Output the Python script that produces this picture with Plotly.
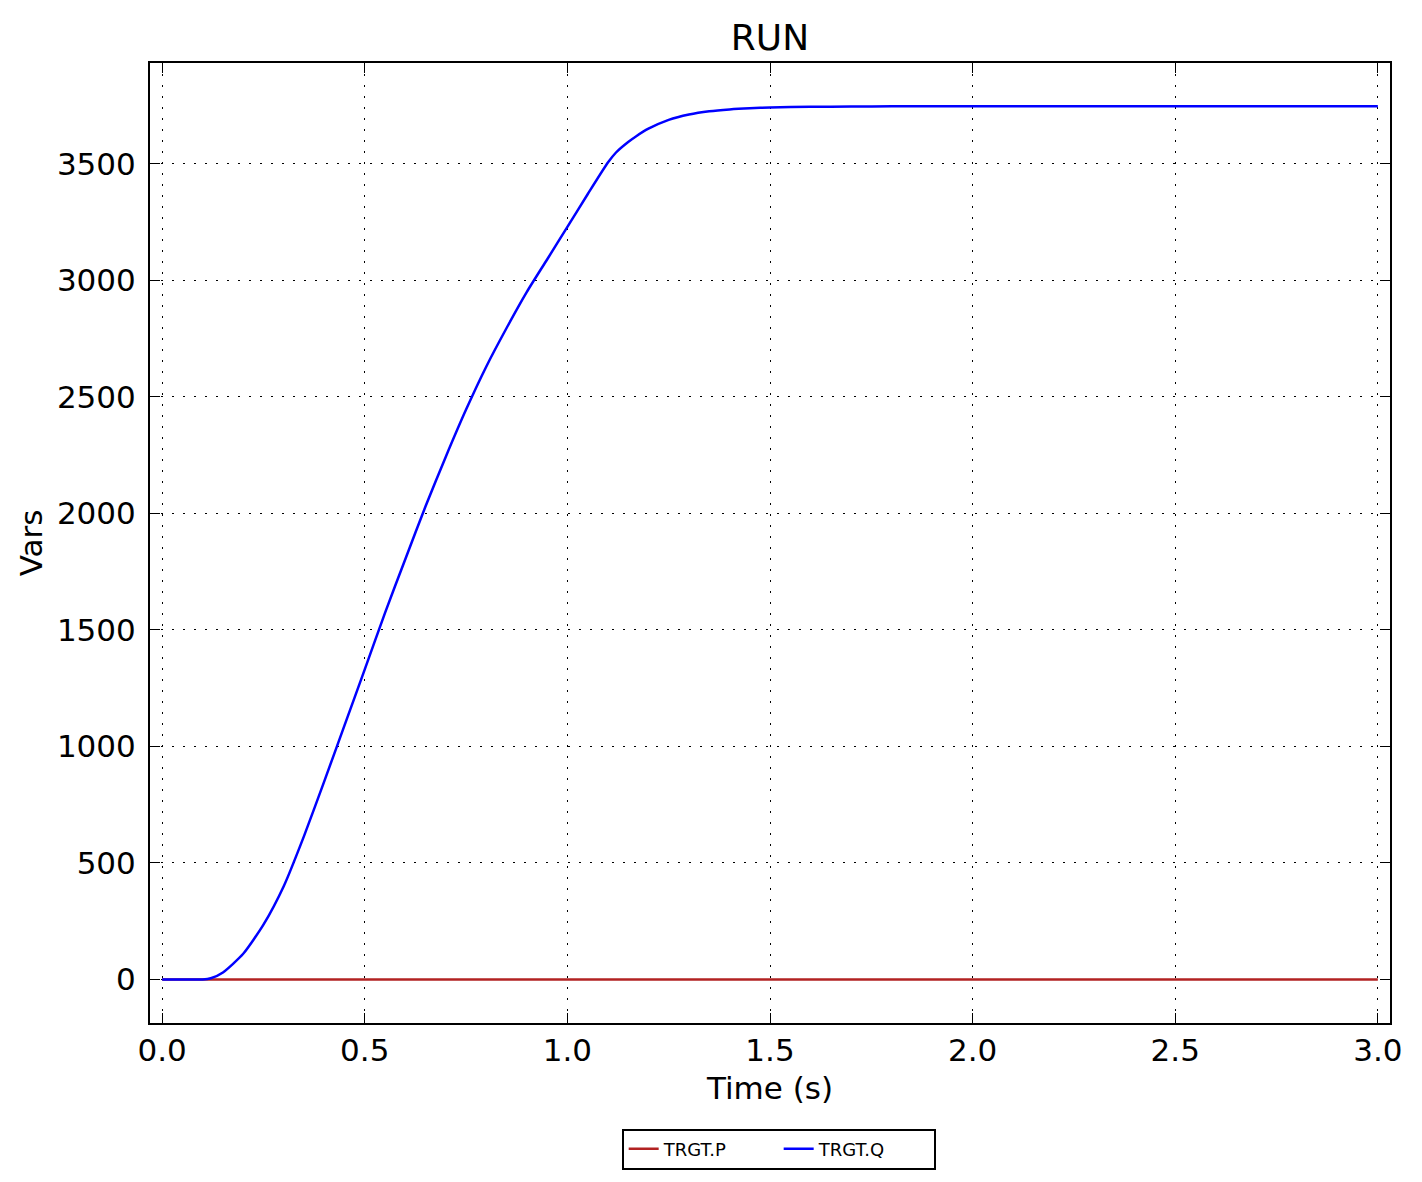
import plotly.graph_objects as go

# Simulation output
time_s = [0.00, 0.05, 0.10, 0.12, 0.15, 0.20, 0.25, 0.30, 0.35, 0.40, 0.45, 0.50,
          0.55, 0.60, 0.65, 0.70, 0.75, 0.80, 0.85, 0.90, 0.95, 1.00, 1.05, 1.10,
          1.12, 1.15, 1.17, 1.20, 1.25, 1.30, 1.35, 1.40, 1.45, 1.50, 1.60, 1.70,
          1.80, 2.00, 2.50, 3.00]
trgt_q = [0, 0, 0, 5, 30, 110, 235, 400, 615, 850, 1090, 1330,
          1573, 1803, 2030, 2243, 2445, 2630, 2795, 2950, 3089, 3229, 3369, 3505,
          3548, 3593, 3618, 3650, 3688, 3711, 3725, 3733, 3738, 3741, 3744, 3745,
          3746, 3746, 3746, 3746]
trgt_p = [0, 0, 0, 0, 0, 0, 0, 0, 0, 0, 0, 0,
          0, 0, 0, 0, 0, 0, 0, 0, 0, 0, 0, 0,
          0, 0, 0, 0, 0, 0, 0, 0, 0, 0, 0, 0,
          0, 0, 0, 0]

x_ticks = [0.0, 0.5, 1.0, 1.5, 2.0, 2.5, 3.0]
y_ticks = [0, 500, 1000, 1500, 2000, 2500, 3000, 3500]

FONT = "DejaVu Sans"

fig = go.Figure()
fig.add_trace(go.Scatter(
    x=time_s, y=trgt_p, mode="lines", name="TRGT.P",
    line=dict(color="#b22222", width=2.5),
))
fig.add_trace(go.Scatter(
    x=time_s, y=trgt_q, mode="lines", name="TRGT.Q",
    line=dict(color="#0000ff", width=2.5, shape="spline", smoothing=0.6),
))

axis_common = dict(
    showline=True, linecolor="black", linewidth=2, mirror="ticks",
    ticks="inside", ticklen=10, tickwidth=1, tickcolor="black",
    showgrid=True, gridcolor="black", gridwidth=1, griddash="2px,9px",
    zeroline=False, tickfont=dict(size=31, color="black", family=FONT),
)

fig.update_xaxes(
    range=[-0.03, 3.03], tickvals=x_ticks, tickformat=".1f",
    title=dict(text="Time (s)", font=dict(size=31, color="black", family=FONT), standoff=10),
    ticklabelstandoff=-1,
    **axis_common,
)
fig.update_yaxes(
    range=[-187, 3932], tickvals=y_ticks,
    title=dict(text="Vars", font=dict(size=31, color="black", family=FONT), standoff=5),
    ticklabelstandoff=6,
    **axis_common,
)

# the page adds an 8px body margin, so the margins are shifted by that amount
fig.update_layout(
    width=1422, height=1182,
    margin=dict(l=142, r=40, t=55, b=167),
    paper_bgcolor="white", plot_bgcolor="white",
    font=dict(family=FONT, color="black"),
    title=dict(text="RUN", x=0.5, xref="paper", y=1 - 29 / 1182, yref="container",
               xanchor="center", yanchor="middle",
               font=dict(size=36, color="black", family=FONT)),
    legend=dict(
        orientation="h", x=0.507, xanchor="center", y=-0.11, yanchor="top",
        bordercolor="black", borderwidth=2, bgcolor="white",
        font=dict(size=18, color="black", family=FONT),
        entrywidth=110, entrywidthmode="pixels",
    ),
)

fig.write_html("out.html")
